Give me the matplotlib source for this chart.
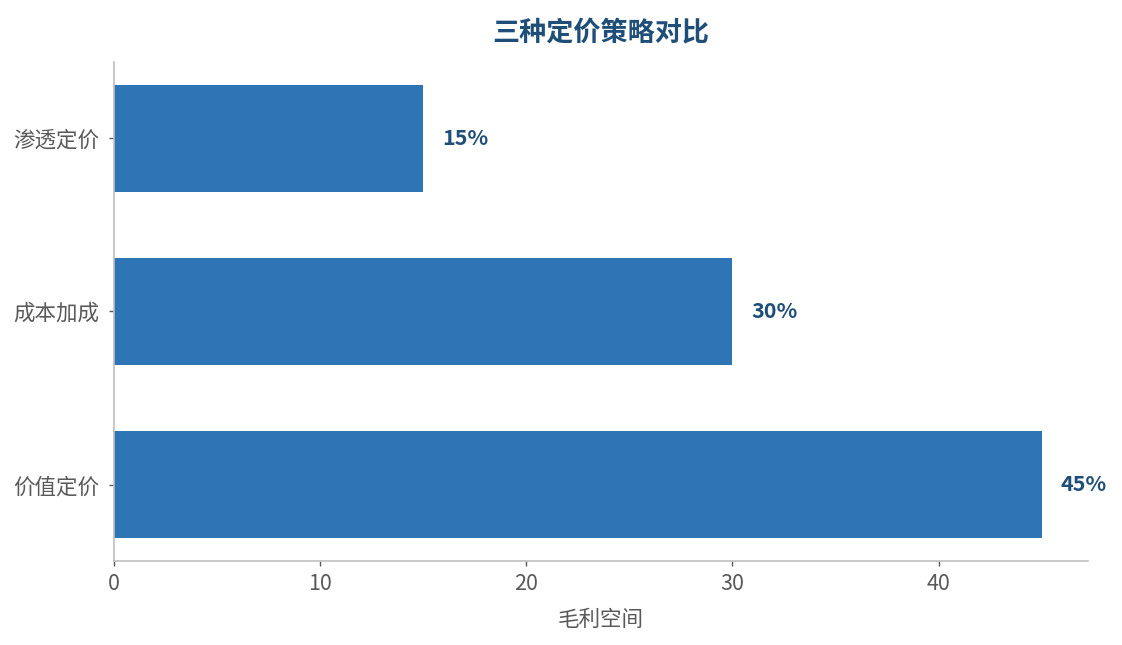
import matplotlib
matplotlib.use("Agg")
import matplotlib.pyplot as plt

plt.rcParams['font.family'] = ['Noto Sans CJK SC', 'DejaVu Sans']

categories = ["价值定价", "成本加成", "渗透定价"]
values = [45, 30, 15]
value_labels = ["45%", "30%", "15%"]
title = "三种定价策略对比"
xlabel = "毛利空间"

bar_color = "#2E75B6"
dark = "#1F4E79"
gray = "#595959"
spine = "#BFBFBF"

fig = plt.figure(figsize=(11.22, 6.45), dpi=100)
ax = fig.add_axes([114/1122, 1-561/645, (1088-114)/1122, (561-62)/645])

ypos = list(range(len(categories)))
ax.barh(ypos, values, height=0.62, color=bar_color)
ax.set_yticks(ypos)
ax.set_yticklabels(categories)
ax.set_xlim(0, max(values) * 1.05)
ax.margins(y=0.05)

for y, v, lab in zip(ypos, values, value_labels):
    ax.text(v + 0.9, y, lab, va='center', ha='left', fontsize=15.5,
            fontweight='bold', color=dark)

ax.set_title(title, fontsize=19.5, fontweight='bold', color=dark, pad=14.5)
ax.set_xlabel(xlabel, fontsize=15.5, color=gray, labelpad=10)

for s in ['top', 'right']:
    ax.spines[s].set_visible(False)
for s in ['left', 'bottom']:
    ax.spines[s].set_color(spine)
    ax.spines[s].set_linewidth(1.2)
ax.tick_params(axis='both', colors=gray, labelsize=15.5, length=3.5, width=1)
ax.tick_params(axis='y', pad=7)
ax.tick_params(axis='x', pad=5)

fig.savefig("out.png", dpi=100)
